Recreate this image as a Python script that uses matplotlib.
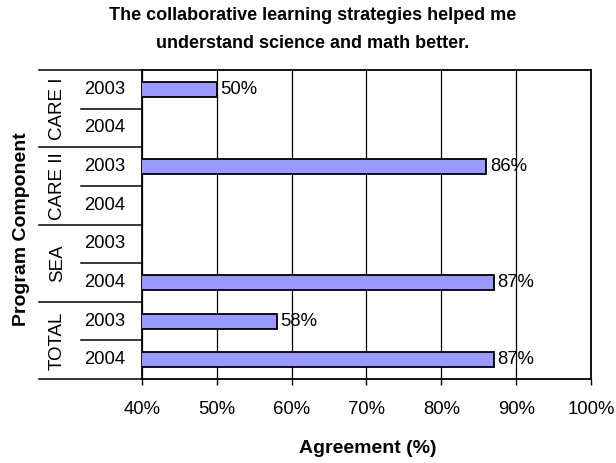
import numpy as np
import matplotlib.pyplot as plt

plt.rcParams['font.family'] = ['Liberation Sans', 'DejaVu Sans']

groups = ['CARE I', 'CARE II', 'SEA', 'TOTAL']
years = ['2003', '2004']
# agreement in percent, one value per group/year row (None = no data)
agreement = [50, None, 86, None, None, 87, 58, 87]
xticks = [40, 50, 60, 70, 80, 90, 100]

fig = plt.figure(figsize=(6.16, 4.63), dpi=100)
ax = fig.add_axes([0.2305, 0.1814, 0.7289, 0.6674])

n = len(agreement)
ypos = np.arange(n)
vals = [v if v is not None else 0 for v in agreement]
ax.barh(ypos, vals, height=0.39, color='#9999ff', edgecolor='black',
        linewidth=1.3, zorder=3)
for y, v in zip(ypos, agreement):
    if v is not None:
        ax.text(v + 0.5, y, f'{v}%', va='center', ha='left', fontsize=13.3, zorder=4)

ax.set_xlim(40, 100)
ax.set_ylim(n - 0.5, -0.5)
ax.set_xticks(xticks)
ax.set_xticklabels([f'{t}%' for t in xticks], fontsize=13.3)
ax.tick_params(axis='x', length=4, width=1, pad=12, direction='out')
ax.set_yticks([])
ax.grid(axis='x', color='black', linewidth=0.9, zorder=1)
for s in ax.spines.values():
    s.set_linewidth(1.3)

# two-level category axis on the left
tr = ax.get_yaxis_transform()
for i in range(n + 1):
    b = i - 0.5
    x0 = -0.229 if i % 2 == 0 else -0.136
    ax.plot([x0, 0], [b, b], transform=tr, color='black', linewidth=1.1,
            clip_on=False, zorder=5)
for i in range(n):
    ax.text(-0.082, i, years[i % 2], transform=tr, ha='center', va='center',
            fontsize=13.3)
for g, name in enumerate(groups):
    ax.text(-0.188, 2 * g + 0.5, name, transform=tr, ha='center', va='center',
            rotation=90, fontsize=13.5)

fig.text(0.508, 0.966, 'The collaborative learning strategies helped me',
         ha='center', va='center', fontsize=13, fontweight='bold')
fig.text(0.508, 0.907, 'understand science and math better.',
         ha='center', va='center', fontsize=13, fontweight='bold')
fig.text(0.035, 0.505, 'Program Component', rotation=90, ha='center',
         va='center', fontsize=14, fontweight='bold')
fig.text(0.597, 0.032, 'Agreement (%)', ha='center', va='center',
         fontsize=14, fontweight='bold')

fig.savefig('out.png', dpi=100)
